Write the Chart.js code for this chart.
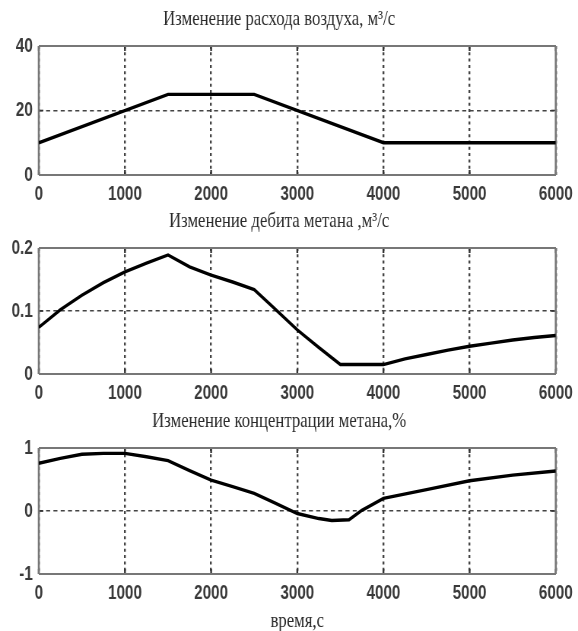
<!DOCTYPE html>
<html>
<head>
<meta charset="utf-8">
<script src="https://cdn.jsdelivr.net/npm/chart.js@4.4.0/dist/chart.umd.min.js"></script>
<style>
  body { margin: 0; background: #fff; overflow: hidden; }
  canvas { position: absolute; left: 0; }
</style>
</head>
<body>
<!-- canvases are drawn wider and squeezed to 578px, which gives the narrow lettering -->
<canvas id="air" width="760" height="200" style="top:0;width:578px;height:200px"></canvas>
<canvas id="gas" width="760" height="200" style="top:200px;width:578px;height:200px"></canvas>
<canvas id="conc" width="760" height="234" style="top:400px;width:578px;height:234px"></canvas>
<script>
// расход воздуха, м3/с
const airTime = [0, 1500, 2500, 4000, 6000];
const airFlow = [10, 25, 25, 10, 10];

// дебит метана, м3/с
const gasTime = [0, 250, 500, 750, 1000, 1250, 1500, 1750, 2000, 2250, 2500, 2750, 3000, 3250, 3500, 4000, 4250, 4500, 4750, 5000, 5250, 5500, 5750, 6000];
const gasFlow = [0.074, 0.102, 0.125, 0.145, 0.162, 0.176, 0.189, 0.170, 0.157, 0.146, 0.134, 0.102, 0.070, 0.042, 0.015, 0.015, 0.024, 0.031, 0.038, 0.044, 0.049, 0.054, 0.058, 0.061];

// концентрация метана, %
const concTime = [0, 250, 500, 750, 1000, 1250, 1500, 1750, 2000, 2250, 2500, 2750, 3000, 3250, 3400, 3600, 3750, 4000, 4500, 5000, 5500, 6000];
const concValue = [0.757, 0.836, 0.90, 0.915, 0.915, 0.862, 0.80, 0.64, 0.49, 0.386, 0.28, 0.12, -0.04, -0.12, -0.15, -0.14, 0.01, 0.20, 0.34, 0.48, 0.57, 0.635];

const titles = [
  'Изменение расхода воздуха, м³/с',
  'Изменение дебита метана ,м³/с',
  'Изменение концентрации метана,%'
];
const xLabel = 'время,с';

// box around the plot area plus small inward ticks on every side
const frame = {
  id: 'frame',
  beforeDatasetsDraw(chart) {
    const { ctx, chartArea: a, scales: { x, y } } = chart;
    const seg = (x1, y1, x2, y2) => { ctx.beginPath(); ctx.moveTo(x1, y1); ctx.lineTo(x2, y2); ctx.stroke(); };
    ctx.save();
    ctx.strokeStyle = '#333';
    ctx.lineWidth = 2.4;
    x.ticks.forEach(t => {
      const px = x.getPixelForValue(t.value);
      seg(px, a.bottom, px, a.bottom - 5);
      seg(px, a.top, px, a.top + 5);
    });
    ctx.lineWidth = 1.6;
    y.ticks.forEach(t => {
      const py = y.getPixelForValue(t.value);
      seg(a.left, py, a.left + 6, py);
      seg(a.right, py, a.right - 6, py);
    });
    ctx.strokeStyle = '#777';
    ctx.lineWidth = 2;
    seg(a.left, a.top, a.right, a.top);
    seg(a.left, a.bottom, a.right, a.bottom);
    ctx.lineWidth = 2.6;
    seg(a.left, a.top, a.left, a.bottom);
    seg(a.right, a.top, a.right, a.bottom);
    ctx.restore();
  }
};

const tickFont = { family: '"Liberation Sans Narrow", "Liberation Sans"', size: 20, weight: 'bold' };
const serif = { family: 'Liberation Serif', size: 22, weight: 'normal' };

function makeChart(id, times, values, title, yMin, yMax, yStep, titlePad, xHeight, withLabel) {
  return new Chart(document.getElementById(id), {
    type: 'line',
    data: {
      datasets: [{
        data: times.map((t, i) => ({ x: t, y: values[i] })),
        borderColor: '#000',
        borderWidth: 3.4,
        pointRadius: 0,
        tension: 0,
        fill: false
      }]
    },
    options: {
      responsive: false,
      animation: false,
      devicePixelRatio: 1,
      layout: { padding: { left: 0, right: 26, top: 0, bottom: 0 } },
      plugins: {
        legend: { display: false },
        tooltip: { enabled: false },
        title: {
          display: true,
          text: title,
          color: '#2a2a2a',
          font: serif,
          padding: titlePad
        }
      },
      scales: {
        x: {
          type: 'linear',
          min: 0,
          max: 6000,
          afterFit: s => { s.height = xHeight; },
          ticks: {
            stepSize: 1000,
            maxRotation: 0,
            padding: 7,
            color: '#3a3a3a',
            font: tickFont,
            callback: v => String(v)
          },
          grid: { color: '#444', lineWidth: 2.4, drawTicks: false },
          border: { display: false, dash: [3, 3.3] },
          title: {
            display: withLabel,
            text: xLabel,
            color: '#2a2a2a',
            font: serif,
            padding: { top: 0, bottom: 0 }
          }
        },
        y: {
          min: yMin,
          max: yMax,
          afterFit: s => { s.width = 51; },
          ticks: {
            stepSize: yStep,
            padding: 8,
            color: '#3a3a3a',
            font: tickFont,
            callback: v => String(v)
          },
          grid: { color: '#444', lineWidth: 1.5, drawTicks: false },
          border: { display: false, dash: [5.3, 4.3] }
        }
      }
    },
    plugins: [frame]
  });
}

// title box = padding + 26.4px line, so the plot area starts at 46–48px
makeChart('air', airTime, airFlow, titles[0], 0, 40, 20, { top: 6.4, bottom: 13.2 }, 25, false);
makeChart('gas', gasTime, gasFlow, titles[1], 0, 0.2, 0.1, { top: 8, bottom: 13.6 }, 26, false);
makeChart('conc', concTime, concValue, titles[2], -1, 1, 1, { top: 8, bottom: 13.6 }, 60, true);
</script>
</body>
</html>
